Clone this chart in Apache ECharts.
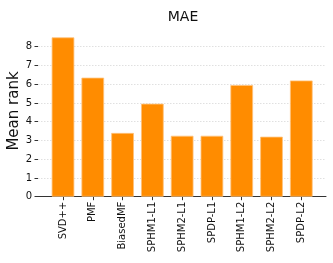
<!DOCTYPE html>
<html><head><meta charset="utf-8">
<script src="https://cdn.jsdelivr.net/npm/echarts@6/dist/echarts.min.js"></script>
<style>html,body{margin:0;padding:0;background:#fff}#c{width:333px;height:263px}</style>
</head><body><div id="c"></div>
<script>
const categories = ['SVD++','PMF','BiasedMF','SPHM1-L1','SPHM2-L1','SPDP-L1','SPHM1-L2','SPHM2-L2','SPDP-L2'];
const meanRank = [8.5, 6.35, 3.4, 4.96, 3.25, 3.25, 5.96, 3.2, 6.2];
const yTicks = [0,1,2,3,4,5,6,7,8];
const font = 'DejaVu Sans';
const yMax = 8.925;
const chart = echarts.init(document.getElementById('c'), null, {renderer:'canvas'});
chart.setOption({
  animation: false,
  textStyle: {fontFamily: font},
  title: {text: 'MAE', left: 178, top: 5, textAlign: 'center',
    textStyle: {fontFamily: font, fontSize: 14, fontWeight: 'normal', color: '#111'}},
  graphic: [{type: 'text', x: 14, y: 111, rotation: Math.PI/2,
    style: {text: 'Mean rank', font: '15px "DejaVu Sans"', fill: '#111', align: 'center', verticalAlign: 'middle'}}],
  grid: [
    {left: 38, right: 7, top: 29.4, bottom: 66.3},
    {left: 48.1, right: 16.8, top: 29.4, bottom: 66.3}
  ],
  xAxis: [
    {gridIndex: 0, type: 'value', min: 0, max: 1, axisLine: {show: true, lineStyle: {color: '#333', width: 1}},
      axisTick: {show: false}, axisLabel: {show: false}, splitLine: {show: false}},
    {gridIndex: 1, type: 'category', data: categories, axisLine: {show: false},
      axisTick: {show: true, alignWithLabel: true, length: 3.5, lineStyle: {color: '#333'}},
      axisLabel: {rotate: 90, fontSize: 10, color: '#111', margin: 5, fontFamily: font, interval: 0}}
  ],
  yAxis: [
    {gridIndex: 0, type: 'value', min: 0, max: yMax,
      axisLine: {show: false},
      axisTick: {show: true, length: 3.5, lineStyle: {color: '#333'}, customValues: yTicks},
      axisLabel: {fontSize: 10, color: '#111', margin: 6, fontFamily: font, customValues: yTicks},
      splitLine: {show: true, lineStyle: {color: '#d8d8d8', type: [1.5, 1.5], width: 0.8}}},
    {gridIndex: 1, type: 'value', min: 0, max: yMax, show: false, splitLine: {show: false}}
  ],
  series: [{type: 'bar', xAxisIndex: 1, yAxisIndex: 1, data: meanRank, barWidth: '76%',
    itemStyle: {color: '#ff8c00', borderColor: '#ffc27a', borderWidth: 0.8}}]
});
</script></body></html>
